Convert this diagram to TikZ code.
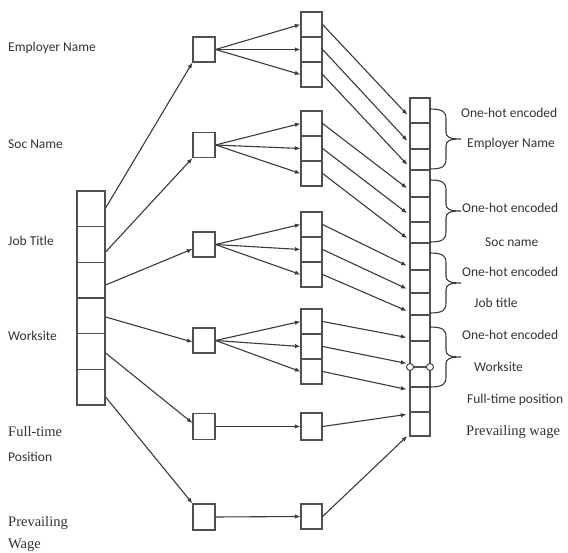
\documentclass[tikz,border=0pt]{standalone}
\usepackage{fontspec}
\setmainfont{Carlito}
\newfontfamily\serifx{Liberation Serif}
\usetikzlibrary{arrows.meta,calc}
\definecolor{boxc}{HTML}{505050}
\definecolor{linec}{HTML}{3A3A3A}
\definecolor{txtc}{HTML}{333333}
\begin{document}
\begin{tikzpicture}[x=1pt,y=-1pt,
  cellbox/.style={draw=boxc, line width=1.2pt, inner sep=0pt},
  conn/.style={draw=linec, line width=1.1pt, -{Latex[length=5.5pt,width=4.5pt]}},
  lab/.style={text=txtc, inner sep=0pt, anchor=west, font=\fontsize{13.5}{16}\selectfont},
  slab/.style={text=txtc, inner sep=0pt, anchor=west, font=\serifx\fontsize{14.5}{17}\selectfont},
  bracel/.style={draw=linec, line width=1.1pt},
  ring/.style={circle, draw=linec, fill=white, line width=0.9pt, minimum size=7, inner sep=0pt}
]
\useasboundingbox (0,0) rectangle (568,553);

% left input column
\foreach \i in {0,...,5}
  \node[cellbox, minimum width=28, minimum height=35.67] (c\i) at (91,{208.83+35.67*\i}) {};

% first hidden boxes
\foreach \n/\y/\h in {1/49.5/25, 2/145/25, 3/244.5/25, 4/340.5/25, 5/426.5/26, 6/517/26}
  \node[cellbox, minimum width=22, minimum height=\h] (b\n) at (204,\y) {};

% middle groups
\foreach \g/\t in {1/12, 2/111, 3/212, 4/309}
  \foreach \c in {1,2,3}
    \node[cellbox, minimum width=21, minimum height=25] (m\g\c) at (311.5,{\t+12.5+25*(\c-1)}) {};
\node[cellbox, minimum width=21, minimum height=27] (m5) at (311.5,426.5) {};
\node[cellbox, minimum width=21, minimum height=25] (m6) at (311.5,516.5) {};

% right output column
\foreach \k/\t/\b in {0/98/123,1/123/149,2/149/170,3/170/197,4/197/222,5/222/243,6/243/270,7/270/293,8/293/315,9/315/341,10/341/367,11/367/387,12/387/412,13/412/436}
  \node[cellbox, minimum width=20, minimum height={\b-\t}] (r\k) at (420,{(\t+\b)/2}) {};

% rings on the output column
\node[ring] (o1) at (410,367) {};
\node[ring] (o2) at (430,367) {};

% connectors: input column -> first boxes
\draw[conn] (c0.east |- 0,208) -- (b1.south west);
\draw[conn] (c1.east |- 0,252) -- (b2.south west);
\draw[conn] (c2.east |- 0,285) -- (b3.west |- 0,249);
\draw[conn] (c3.east |- 0,317) -- (b4.west |- 0,342);
\draw[conn] (c4.east |- 0,353) -- (b5.west |- 0,423);
\draw[conn] (c5.east |- 0,397) -- (b6.north west);

% first boxes -> middle groups
\foreach \g in {1,2,3,4}
  \foreach \c in {1,2,3}
    \draw[conn] (b\g.east) -- (m\g\c.west);
\draw[conn] (b5.east) -- (m5.west);
\draw[conn] (b6.east) -- (m6.west);

% middle -> output column
\foreach \g/\c/\k/\ty in {1/1/0/117, 1/2/1/143, 1/3/2/167, 2/1/3/190, 2/2/4/215, 2/3/5/240, 3/1/6/267, 3/2/7/290, 3/3/8/312, 4/1/9/338, 4/2/10/364, 4/3/11/390}
  \draw[conn, shorten >=3pt] (m\g\c.east) -- (r\k.west |- 0,\ty);
\draw[conn, shorten >=3pt] (m5.east) -- (r12.west |- 0,414);
\draw[conn, shorten >=3pt] (m6.east) -- (r13.west |- 0,434);

% braces
\foreach \t/\b in {109/169, 180/242, 253/313, 327/387} {
  \pgfmathsetmacro\mm{(\t+\b)/2}
  \draw[bracel] (430,\t) .. controls (443,\t) and (446,{\t+3}) .. (446,{\t+10})
    -- (446,{\mm-7}) .. controls (446,{\mm-2}) and (449,\mm) .. (461,\mm)
    .. controls (449,\mm) and (446,{\mm+2}) .. (446,{\mm+7})
    -- (446,{\b-10}) .. controls (446,{\b-3}) and (443,\b) .. (430,\b);
}

% left labels
\node[lab] (t1) at (8,48) {Employer Name};
\node[lab] (t2) at (8,144) {Soc Name};
\node[lab] (t3) at (8,241) {Job Title};
\node[lab] (t4) at (8,336) {Worksite};
\node[slab] (t5) at (8,432) {Full-time};
\node[lab] (t6) at (8,457) {Position};
\node[slab] (t7) at (8,523) {Prevailing};
\node[slab] (t8) at (8,545) {Wage};

% right labels
\node[lab] (e1) at (461,113) {One-hot encoded};
\node[lab] (e1b) at (467,144) {Employer Name};
\node[lab] (e2) at (462,208) {One-hot encoded};
\node[lab] (e2b) at (485,242) {Soc name};
\node[lab] (e3) at (462,272) {One-hot encoded};
\node[lab] (e3b) at (474,303) {Job title};
\node[lab] (e4) at (462,335) {One-hot encoded};
\node[lab] (e4b) at (474,367) {Worksite};
\node[lab] (e5) at (467,400) {Full-time position};
\node[slab] (e6) at (466,432) {Prevailing wage};
\end{tikzpicture}
\end{document}
